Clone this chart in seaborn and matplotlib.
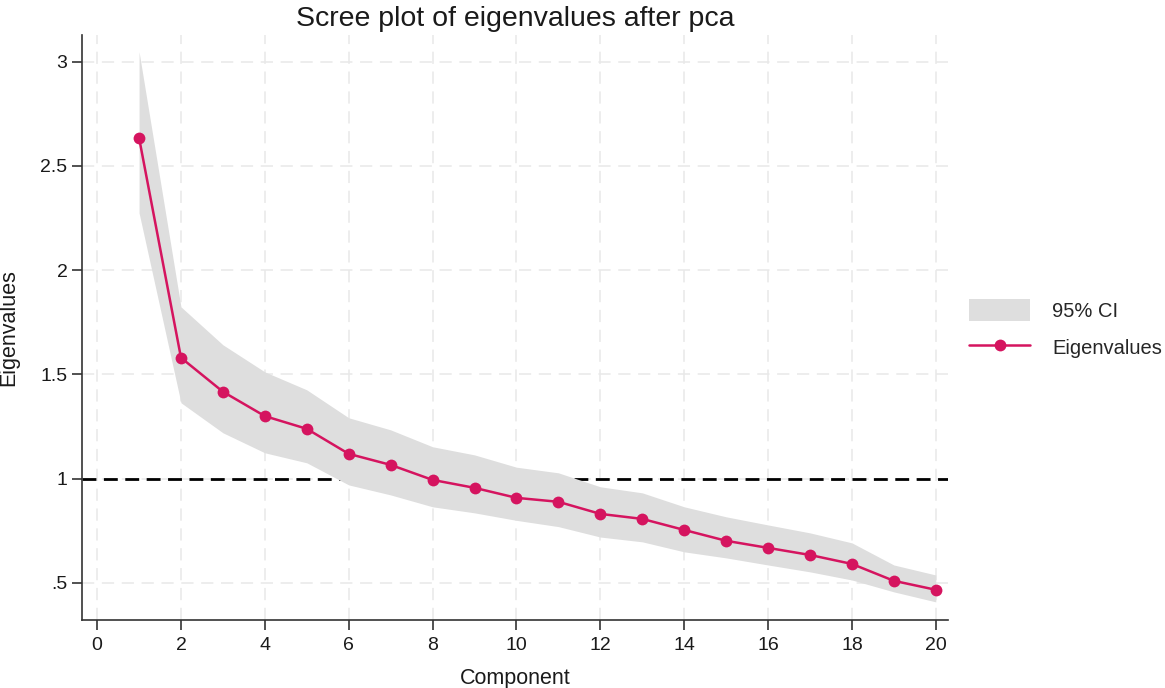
import numpy as np
import pandas as pd
import matplotlib
matplotlib.use("Agg")
import matplotlib.pyplot as plt
import seaborn as sns
from matplotlib.patches import Patch
from matplotlib.lines import Line2D

components = list(range(1, 21))
eigenvalues = [2.635, 1.58, 1.417, 1.30, 1.239, 1.119, 1.066, 0.994, 0.956, 0.908,
               0.889, 0.831, 0.807, 0.754, 0.702, 0.668, 0.634, 0.591, 0.51, 0.467]
ci_upper = [3.048, 1.824, 1.642, 1.512, 1.426, 1.292, 1.234, 1.153, 1.114, 1.055,
            1.028, 0.961, 0.932, 0.865, 0.817, 0.778, 0.74, 0.692, 0.586, 0.538]
ci_lower = [2.275, 1.364, 1.22, 1.124, 1.076, 0.970, 0.922, 0.865, 0.836, 0.80,
            0.77, 0.72, 0.697, 0.649, 0.62, 0.586, 0.553, 0.514, 0.457, 0.409]
x_ticks = [0, 2, 4, 6, 8, 10, 12, 14, 16, 18, 20]
y_ticks = [0.5, 1, 1.5, 2, 2.5, 3]
y_tick_labels = [".5", "1", "1.5", "2", "2.5", "3"]

sns.set_theme(style="white")
plt.rcParams['font.family'] = ['Liberation Sans', 'DejaVu Sans']

df = pd.DataFrame({"Component": components, "Eigenvalues": eigenvalues,
                   "lo": ci_lower, "hi": ci_upper})

pink = "#d5145f"
band = "#dedede"
txt = "#1a1a1a"
fig = plt.figure(figsize=(11.65, 6.88), dpi=100)
ax = fig.add_axes([0.0704, 0.0988, 0.7433, 0.851])

ax.axhline(1, color="black", linestyle=(0, (5, 2.7)), linewidth=2.0, zorder=2)
ax.fill_between(df["Component"], df["lo"], df["hi"], color=band, linewidth=0, zorder=3)
sns.lineplot(data=df, x="Component", y="Eigenvalues", ax=ax, color=pink, marker="o",
             markersize=8.5, markeredgewidth=0, linewidth=1.8, zorder=4)

ax.set_xlim(-0.36, 20.29)
ax.set_ylim(0.322, 3.13)
ax.set_xticks(x_ticks)
ax.set_yticks(y_ticks)
ax.set_yticklabels(y_tick_labels)
ax.grid(True, color="#e8e8e8", linestyle=(0, (8, 5)), linewidth=1.1, zorder=0)
ax.set_axisbelow(True)
for s in ["top", "right"]:
    ax.spines[s].set_visible(False)
for s in ["left", "bottom"]:
    ax.spines[s].set_color("#333333")
    ax.spines[s].set_linewidth(1.2)
ax.tick_params(axis="both", direction="out", length=7.5, width=1.2, color="#333333",
               labelsize=14, labelcolor=txt, left=True, bottom=True)
ax.tick_params(axis="x", pad=4.5)
ax.tick_params(axis="y", pad=3)
ax.set_xlabel("Component", fontsize=15.5, color=txt, labelpad=10)
ax.set_ylabel("Eigenvalues", fontsize=15.5, color=txt, labelpad=15)
ax.set_title("Scree plot of eigenvalues after pca", fontsize=20.5, color=txt, pad=6)

handles = [Patch(facecolor=band, edgecolor="none"),
           Line2D([0], [0], color=pink, marker="o", markersize=8.5, markeredgewidth=0, linewidth=1.8)]
fig.legend(handles, ["95% CI", "Eigenvalues"], loc="center left",
           bbox_to_anchor=(0.8166, 0.522), frameon=False, fontsize=14.5,
           handlelength=3.0, handleheight=1.34, handletextpad=1.1, labelspacing=0.75)

fig.savefig("out.png", dpi=100)
